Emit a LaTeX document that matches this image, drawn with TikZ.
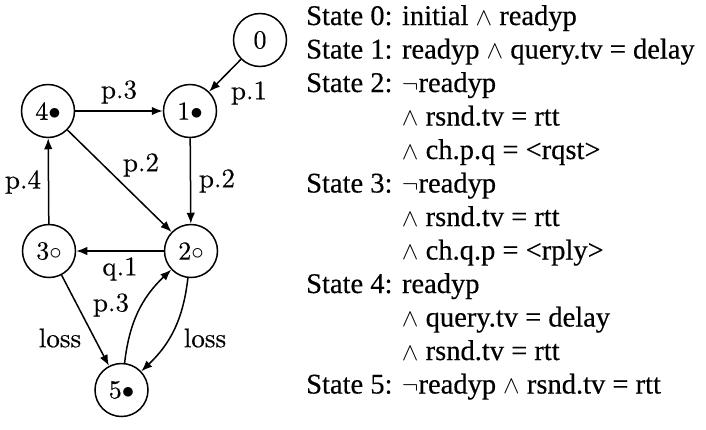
\documentclass[tikz,border=0pt]{standalone}
\usepackage{fontspec}
\usetikzlibrary{arrows.meta}
\newfontfamily\tms[FakeBold=0.4]{Liberation Serif}
\newfontfamily\lmr[FakeBold=0.4]{lmroman10-regular.otf}
\begin{document}
\begin{tikzpicture}[x=1pt,y=-1pt,
  st/.style={circle,draw,line width=1.5pt,minimum size=53pt,inner sep=0pt,font=\lmr\fontsize{26}{30}\selectfont},
  arr/.style={line width=1.5pt,-{Latex[length=11pt,width=8.5pt]}},
  lbl/.style={font=\lmr\fontsize{27}{30}\selectfont,inner sep=0pt},
  ln/.style={anchor=base west,inner sep=0pt,font=\tms\fontsize{28.5}{30}\selectfont}]
\useasboundingbox (0,0) rectangle (706,429);
% states
\node[st] (n0) at (260,40) {0};
\node[st] (n1) at (190,111) {1$\bullet$};
\node[st] (n4) at (48,111) {4$\bullet$};
\node[st] (n3) at (49,251) {3$\circ$};
\node[st] (n2) at (191,251) {2$\circ$};
\node[st] (n5) at (121.5,390) {5$\bullet$};
% transitions
\draw[arr] (n0) -- (n1);
\draw[arr] (n4) -- (n1);
\draw[arr] (n4) -- (n2);
\draw[arr] (n1) -- (n2);
\draw[arr] (n3) -- (n4);
\draw[arr] (n2) -- (n3);
\draw[arr] (n3) -- (n5);
\draw[arr] (n5) to[bend left=20] (n2);
\draw[arr] (n2) to[bend left=20] (n5);
% labels
\node[lbl] (l01) at (249,93) {p.1};
\node[lbl] (l41) at (119,92) {p.3};
\node[lbl] (l42) at (141,165) {p.2};
\node[lbl] (l12) at (217,181) {p.2};
\node[lbl] (l34) at (23,182) {p.4};
\node[lbl] (l23) at (120,269) {q.1};
\node[lbl] (l52) at (111,305) {p.3};
\node[lbl] (l35) at (60,338) {loss};
\node[lbl] (l25) at (205,338) {loss};
% state descriptions
\node[ln] (t0)  at (306,25)    {State 0: initial $\wedge$ readyp};
\node[ln] (t1)  at (306,58.5)  {State 1: readyp $\wedge$ query.tv = delay};
\node[ln] (t2)  at (306,92)    {State 2: $\neg$readyp};
\node[ln] (t3)  at (306,125.5) {\hphantom{State 2: }$\wedge$ rsnd.tv = rtt};
\node[ln] (t4)  at (306,159)   {\hphantom{State 2: }$\wedge$ ch.p.q = <rqst>};
\node[ln] (t5)  at (306,192.5) {State 3: $\neg$readyp};
\node[ln] (t6)  at (306,226)   {\hphantom{State 3: }$\wedge$ rsnd.tv = rtt};
\node[ln] (t7)  at (306,259.5) {\hphantom{State 3: }$\wedge$ ch.q.p = <rply>};
\node[ln] (t8)  at (306,293)   {State 4: readyp};
\node[ln] (t9)  at (306,326.5) {\hphantom{State 4: }$\wedge$ query.tv = delay};
\node[ln] (t10) at (306,360)   {\hphantom{State 4: }$\wedge$ rsnd.tv = rtt};
\node[ln] (t11) at (306,393.5) {State 5: $\neg$readyp $\wedge$ rsnd.tv = rtt};
\end{tikzpicture}
\end{document}
